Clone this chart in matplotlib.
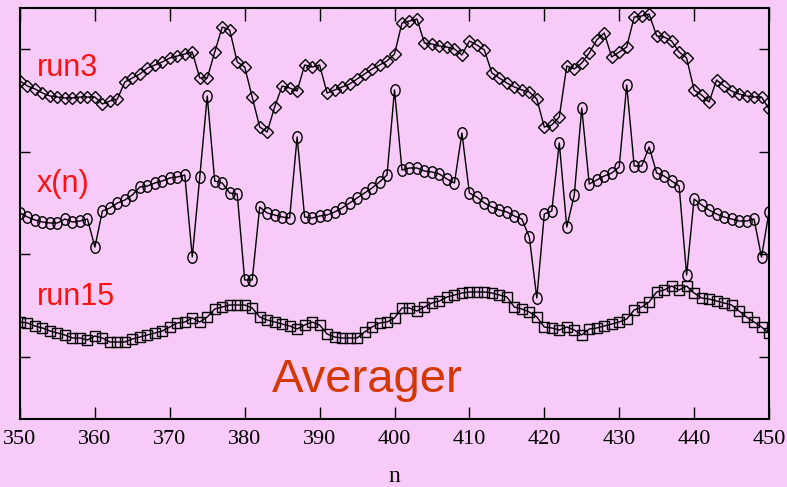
import numpy as np
import matplotlib
matplotlib.use("Agg")
import matplotlib.pyplot as plt
from matplotlib.path import Path
from matplotlib.transforms import Affine2D

n = list(range(350, 451))

run3 = [338, 333, 330, 326, 323, 322, 321, 321, 322, 322,
        322, 315, 318, 320, 337, 341, 345, 351, 354, 357,
        361, 363, 365, 367, 341, 341, 367, 392, 389, 357,
        352, 322, 292, 287, 312, 333, 331, 328, 354, 352,
        354, 326, 329, 332, 335, 340, 345, 350, 354, 358,
        365, 396, 398, 400, 376, 375, 373, 372, 370, 364,
        378, 374, 369, 346, 341, 336, 332, 329, 327, 320,
        292, 294, 302, 353, 350, 356, 366, 379, 386, 362,
        367, 372, 402, 403, 405, 383, 382, 378, 367, 361,
        329, 324, 317, 339, 333, 328, 325, 323, 322, 322,
        310]

xn = [206, 202, 199, 197, 196, 196, 200, 197, 198, 200,
      172, 208, 211, 216, 219, 224, 232, 233, 236, 238,
      241, 242, 244, 162, 242, 323, 238, 236, 226, 225,
      139, 139, 212, 206, 204, 202, 201, 282, 202, 201,
      203, 204, 207, 211, 216, 221, 226, 231, 237, 244,
      329, 249, 251, 251, 248, 247, 245, 240, 236, 286,
      226, 222, 216, 212, 209, 207, 203, 200, 182, 121,
      205, 208, 276, 192, 224, 311, 235, 239, 243, 246,
      252, 334, 253, 253, 272, 246, 243, 238, 233, 144,
      220, 214, 209, 205, 202, 200, 198, 198, 200, 162,
      207]

run15 = [97, 96, 93, 91, 88, 86, 84, 81, 81, 79,
         83, 81, 77, 77, 77, 80, 82, 84, 86, 88,
         92, 96, 97, 101, 97, 102, 110, 112, 114, 114,
         114, 111, 102, 99, 97, 95, 93, 90, 94, 97,
         94, 85, 82, 81, 81, 81, 87, 92, 96, 97,
         101, 111, 111, 108, 112, 116, 118, 122, 124, 126,
         127, 127, 127, 126, 124, 122, 112, 110, 107, 102,
         92, 91, 89, 92, 89, 84, 90, 91, 93, 95,
         97, 100, 109, 112, 117, 127, 129, 133, 129, 133,
         126, 121, 120, 118, 116, 114, 108, 102, 97, 92,
         86]

xticks = [350, 360, 370, 380, 390, 400, 410, 420, 430, 440, 450]
yticks = [62, 165, 267, 370]

bg = '#f7caf7'
W, H = 787, 487
fig = plt.figure(figsize=(W / 100, H / 100), dpi=100, facecolor=bg)
ax = fig.add_axes([20 / W, (H - 419) / H, (769 - 20) / W, (419 - 8) / H])
ax.set_facecolor(bg)

ell = Path.unit_circle().transformed(Affine2D().scale(0.8, 1.0))

ax.plot(n, run3, color='black', lw=1, marker='D', ms=6.2,
        mfc='none', mec='black', mew=1)
ax.plot(n, xn, color='black', lw=1, marker=ell, ms=8.3,
        mfc='none', mec='black', mew=1)
ax.plot(n, run15, color='black', lw=1, marker='s', ms=7,
        mfc='none', mec='black', mew=1)

ax.set_xlim(350, 450)
ax.set_ylim(0, 411)
ax.set_xticks(xticks)
ax.set_xticklabels([str(t) for t in xticks], family='Liberation Serif', fontsize=16)
ax.set_yticks(yticks)
ax.set_yticklabels([])
ax.tick_params(axis='x', direction='in', length=9, width=1, top=True, pad=8)
ax.tick_params(axis='y', direction='in', length=7, width=1, right=True)
for s in ax.spines.values():
    s.set_linewidth(1.5)
    s.set_color('black')

ax.set_xlabel('n', family='Liberation Serif', fontsize=17, labelpad=12)

lbl = dict(family='Liberation Sans', color='#ff1010', fontsize=22, va='baseline', ha='left')
ax.text(352.2, 343, 'run3', **lbl)
ax.text(352.2, 227, 'x(n)', **lbl)
ax.text(352.2, 114, 'run15', **lbl)
ax.text(383.6, 27, 'Averager', family='Liberation Sans', color='#d23800',
        fontsize=34, va='baseline', ha='left')

fig.savefig('out.png', dpi=100, facecolor=bg)
